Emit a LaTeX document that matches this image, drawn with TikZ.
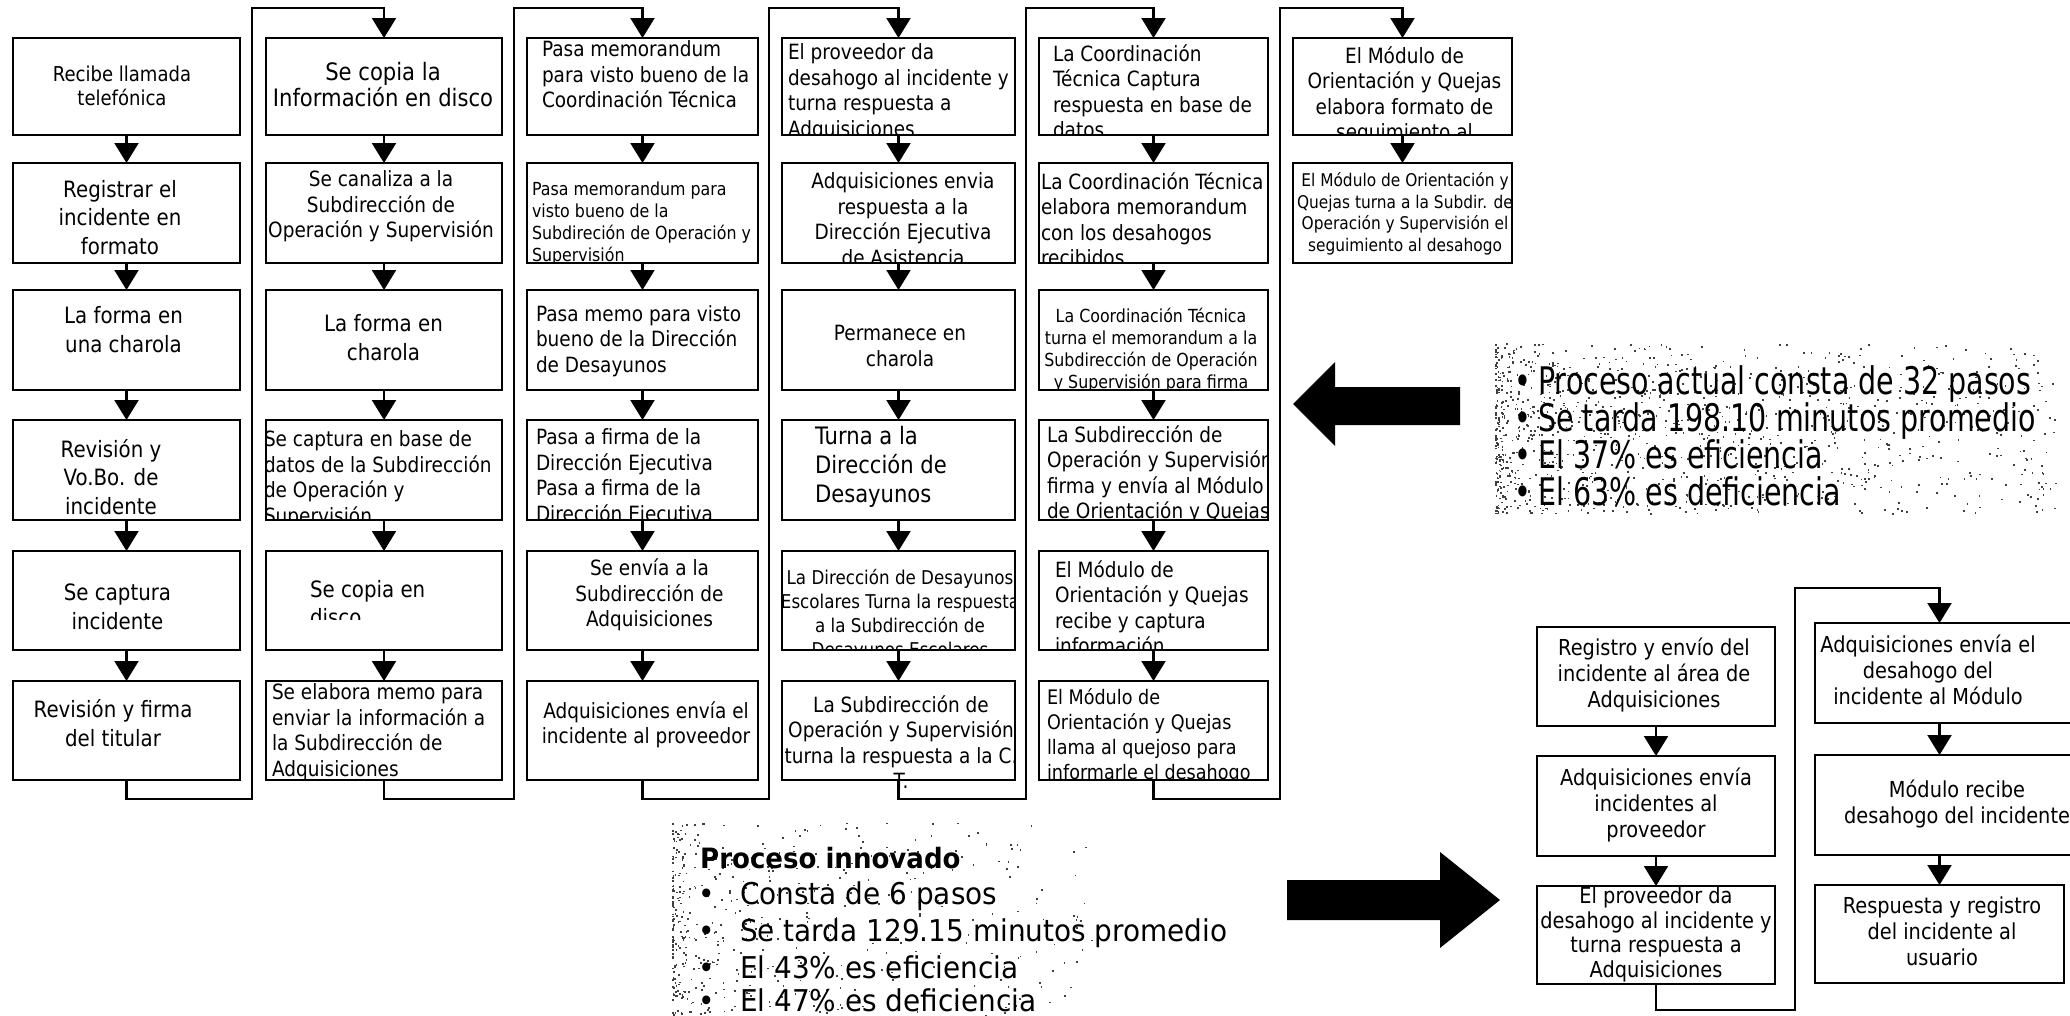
\documentclass[tikz,border=0pt]{standalone}
\usepackage{fontspec}
\setmainfont{DejaVu Sans}
\newfontfamily\boxfont{DejaVu Sans}[FakeStretch=0.88]
\newfontfamily\notefont{DejaVu Sans}[FakeStretch=0.75]
\newfontfamily\notefontb{DejaVu Sans}[FakeStretch=0.93]
\usetikzlibrary{arrows.meta}

% text sizes used inside the boxes
\newcommand\fzT{\fontsize{17.5bp}{21.5bp}\selectfont}
\newcommand\fzS{\fontsize{18bp}{22bp}\selectfont}
\newcommand\fzD{\fontsize{19bp}{24bp}\selectfont}
\newcommand\fzN{\fontsize{20bp}{25bp}\selectfont}
\newcommand\fzR{\fontsize{20.5bp}{24.5bp}\selectfont}
\newcommand\fzM{\fontsize{21bp}{25.5bp}\selectfont}
\newcommand\fzB{\fontsize{22bp}{26bp}\selectfont}
\newcommand\fzC{\fontsize{22bp}{24.5bp}\selectfont}
\newcommand\fzL{\fontsize{22.5bp}{28.5bp}\selectfont}
\newcommand\fzX{\fontsize{24bp}{26bp}\selectfont}
\newcommand\fzY{\fontsize{24bp}{29bp}\selectfont}

\tikzset{
  stepbox/.style={draw, line width=2.6bp, inner sep=0pt, outer sep=0pt},
  boxtxt/.style={inner sep=0pt, outer sep=0pt,
    execute at begin node=\strut, execute at end node=\strut},
  tc/.style={boxtxt, align=center, anchor=center},
  tl/.style={boxtxt, align=left, anchor=west},
  flow/.style={line width=2.2bp, line join=miter, -{Triangle[length=20bp,width=24bp]}},
  note/.style={inner sep=0pt, anchor=base west, font=\notefont\fontsize{38bp}{37bp}\selectfont},
  notetwo/.style={inner sep=0pt, anchor=base west, font=\notefontb\fontsize{30bp}{37bp}\selectfont},
  notehead/.style={inner sep=0pt, anchor=west, font=\notefontb\fontsize{28bp}{34bp}\selectfont\bfseries},
  bulone/.style={inner sep=0pt, anchor=base, font=\notefont\fontsize{38bp}{37bp}\selectfont},
  bultwo/.style={inner sep=0pt, anchor=base, font=\notefontb\fontsize{30bp}{37bp}\selectfont},
  grain/.style={fill=black!75},
  blockarrow/.style={fill=black},
}

% a framed step: name, left, top, right, bottom
\newcommand\flowbox[5]{%
  \pgfmathsetmacro\bw{#4-#2}\pgfmathsetmacro\bh{#5-#3}%
  \node[stepbox, minimum width=\bw bp, minimum height=\bh bp] (#1) at ({(#2+#4)/2},{(#3+#5)/2}) {};}
% text of a step, clipped to its frame: box, options, x, y, text
\newcommand\boxtext[5]{%
  \begin{scope}
    \clip (#1.south west) rectangle (#1.north east);
    \node[#2] (#1t) at (#3,#4) {#5};
  \end{scope}}

\begin{document}
\begin{tikzpicture}[x=1bp,y=-1bp]
\useasboundingbox (0,0) rectangle (2070,1016);
\fill[white] (0,0) rectangle (2070,1016);

% ---------- grainy backdrops behind the two summaries ----------
\pgfmathsetseed{42}
\foreach \k in {1,...,1100}{
  \pgfmathsetmacro\px{1495+560*rnd^2}
  \pgfmathsetmacro\py{343+170*rnd}
  \fill[grain] (\px,\py) rectangle ++(1.7,1.7);
}
\foreach \k in {1,...,500}{
  \pgfmathsetmacro\px{672+420*rnd^2.5}
  \pgfmathsetmacro\py{822+194*rnd}
  \fill[grain] (\px,\py) rectangle ++(1.7,1.7);
}

% ---------- current process: six columns ----------
% column 1
\flowbox{a1}{13}{38}{240}{135}
\flowbox{a2}{13}{163}{240}{263}
\flowbox{a3}{13}{290}{240}{390}
\flowbox{a4}{13}{420}{240}{520}
\flowbox{a5}{13}{551}{240}{650}
\flowbox{a6}{13}{681}{240}{780}
% column 2
\flowbox{b1}{266}{38}{502}{135}
\flowbox{b2}{266}{163}{502}{263}
\flowbox{b3}{266}{290}{502}{390}
\flowbox{b4}{266}{420}{502}{520}
\flowbox{b5}{266}{551}{502}{650}
\flowbox{b6}{266}{681}{502}{780}
% column 3
\flowbox{c1}{527}{38}{758}{135}
\flowbox{c2}{527}{163}{758}{263}
\flowbox{c3}{527}{290}{758}{390}
\flowbox{c4}{527}{420}{758}{520}
\flowbox{c5}{527}{551}{758}{650}
\flowbox{c6}{527}{681}{758}{780}
% column 4
\flowbox{d1}{782}{38}{1015}{135}
\flowbox{d2}{782}{163}{1015}{263}
\flowbox{d3}{782}{290}{1015}{390}
\flowbox{d4}{782}{420}{1015}{520}
\flowbox{d5}{782}{551}{1015}{650}
\flowbox{d6}{782}{681}{1015}{780}
% column 5
\flowbox{e1}{1039}{38}{1268}{135}
\flowbox{e2}{1039}{163}{1268}{263}
\flowbox{e3}{1039}{290}{1268}{390}
\flowbox{e4}{1039}{420}{1268}{520}
\flowbox{e5}{1039}{551}{1268}{650}
\flowbox{e6}{1039}{681}{1268}{780}
% column 6
\flowbox{f1}{1293}{38}{1512}{135}
\flowbox{f2}{1293}{163}{1512}{263}

% texts, column 1
\boxtext{a1}{tc, font=\boxfont\fzR}{122}{89.5}{Recibe llamada\\telefónica}
\boxtext{a2}{tc, font=\boxfont\fzL}{120}{221.5}{Registrar el\\incidente en\\formato}
\boxtext{a3}{tc, font=\boxfont\fzL}{123.5}{333.5}{La forma en\\una charola}
\boxtext{a4}{tc, font=\boxfont\fzL}{111}{481}{Revisión y\\Vo.Bo. de\\incidente}
\boxtext{a5}{tc, font=\boxfont\fzL}{117.5}{611}{Se captura\\incidente}
\boxtext{a6}{tc, font=\boxfont\fzL}{113}{727.5}{Revisión y firma\\del titular}
% texts, column 2
\boxtext{b1}{tc, font=\boxfont\fzX}{383}{88}{Se copia la\\Información en disco}
\boxtext{b2}{tc, font=\boxfont\fzM}{381}{208}{Se canaliza a la\\Subdirección de\\Operación y Supervisión}
\boxtext{b3}{tc, font=\boxfont\fzL}{383.5}{341.5}{La forma en\\charola}
\boxtext{b4}{tl, font=\boxfont\fzM}{264}{481}{Se captura en base de\\datos de la Subdirección\\de Operación y\\Supervisión}
\begin{scope}
  \clip (b5.north west) rectangle (b5.east |- 0,619);
  \node[tl, font=\boxfont\fzL] (b5t) at (310,607) {Se copia en\\disco};
\end{scope}
\boxtext{b6}{tl, font=\boxfont\fzM}{272}{734}{Se elabora memo para\\enviar la información a\\la Subdirección de\\Adquisiciones}
% texts, column 3
\boxtext{c1}{tl, font=\boxfont\fzM}{542}{78}{Pasa memorandum\\para visto bueno de la\\Coordinación Técnica}
\boxtext{c2}{tl, font=\boxfont\fzS}{532}{225}{Pasa memorandum para\\visto bueno de la\\Subdireción de Operación y\\Supervisión}
\boxtext{c3}{tl, font=\boxfont\fzM}{536}{342.5}{Pasa memo para visto\\bueno de la Dirección\\de Desayunos}
\boxtext{c4}{tl, font=\boxfont\fzM}{536}{479}{Pasa a firma de la\\Dirección Ejecutiva\\Pasa a firma de la\\Dirección Ejecutiva}
\boxtext{c5}{tc, font=\boxfont\fzM}{649.5}{596.5}{Se envía a la\\Subdirección de\\Adquisiciones}
\boxtext{c6}{tc, font=\boxfont\fzM}{646}{726.5}{Adquisiciones envía el\\incidente al proveedor}
% texts, column 4
\boxtext{d1}{tl, font=\boxfont\fzM}{788}{94}{El proveedor da\\desahogo al incidente y\\turna respuesta a\\Adquisiciones}
\boxtext{d2}{tc, font=\boxfont\fzM}{903}{223}{Adquisiciones envia\\respuesta a la\\Dirección Ejecutiva\\de Asistencia}
\boxtext{d3}{tc, font=\boxfont\fzM}{900}{349.5}{Permanece en\\charola}
\boxtext{d4}{tl, font=\boxfont\fzY}{815}{469}{Turna a la\\Dirección de\\Desayunos}
\boxtext{d5}{tc, font=\boxfont\fzD}{900}{616}{La Dirección de Desayunos\\Escolares Turna la respuesta\\a la Subdirección de\\Desayunos Escolares}
\node[tc, font=\boxfont\fzM] (d6t) at (901,746) {La Subdirección de\\Operación y Supervisión\\turna la respuesta a la C.\\T.};
% texts, column 5
\boxtext{e1}{tl, font=\boxfont\fzM}{1053}{95}{La Coordinación\\Técnica Captura\\respuesta en base de\\datos}
\boxtext{e2}{tl, font=\boxfont\fzM}{1041}{223}{La Coordinación Técnica\\elabora memorandum\\con los desahogos\\recibidos}
\boxtext{e3}{tc, font=\boxfont\fzS}{1151}{352}{La Coordinación Técnica\\turna el memorandum a la\\Subdirección de Operación\\y Supervisión para firma}
\boxtext{e4}{tl, font=\boxfont\fzM}{1047}{476}{La Subdirección de\\Operación y Supervisión\\firma y envía al Módulo\\de Orientación y Quejas}
\boxtext{e5}{tl, font=\boxfont\fzM}{1055}{611}{El Módulo de\\Orientación y Quejas\\recibe y captura\\información}
\boxtext{e6}{tl, font=\boxfont\fzN}{1047}{738}{El Módulo de\\Orientación y Quejas\\llama al quejoso para\\informarle el desahogo}
% texts, column 6
\boxtext{f1}{tc, font=\boxfont\fzM}{1404.5}{97}{El Módulo de\\Orientación y Quejas\\elabora formato de\\seguimiento al}
\boxtext{f2}{tc, font=\boxfont\fzT}{1405}{215}{El Módulo de Orientación y\\Quejas turna a la Subdir. de\\Operación y Supervisión el\\seguimiento al desahogo}

% arrows inside the columns
\foreach \col in {a,b,c,d,e}{
  \draw[flow] (\col1) -- (\col2);
  \draw[flow] (\col2) -- (\col3);
  \draw[flow] (\col3) -- (\col4);
  \draw[flow] (\col4) -- (\col5);
  \draw[flow] (\col5) -- (\col6);
}
\draw[flow] (f1) -- (f2);

% links from the foot of one column to the head of the next
\coordinate (lb1) at (252,799);  \coordinate (lt1) at (252,8);
\coordinate (lb2) at (514,799);  \coordinate (lt2) at (514,8);
\coordinate (lb3) at (769,799);  \coordinate (lt3) at (769,8);
\coordinate (lb4) at (1026,799); \coordinate (lt4) at (1026,8);
\coordinate (lb5) at (1280,799); \coordinate (lt5) at (1280,8);
\draw[flow] (a6.south) |- (lb1) -- (lt1) -| (b1.north);
\draw[flow] (b6.south) |- (lb2) -- (lt2) -| (c1.north);
\draw[flow] (c6.south) |- (lb3) -- (lt3) -| (d1.north);
\draw[flow] (d6.south) |- (lb4) -- (lt4) -| (e1.north);
\draw[flow] (e6.south) |- (lb5) -- (lt5) -| (f1.north);

% ---------- block arrows ----------
\fill[blockarrow] (1293,404) -- (1335,362) -- (1335,387) -- (1460,387) -- (1460,425)
  -- (1335,425) -- (1335,446) -- cycle;
\fill[blockarrow] (1500,900) -- (1440,852) -- (1440,880) -- (1287,880) -- (1287,920)
  -- (1440,920) -- (1440,948) -- cycle;

% ---------- summary of the current process ----------
\node[bulone] (q1d) at (1523,394) {•};
\node[bulone] (q2d) at (1523,431) {•};
\node[bulone] (q3d) at (1523,468) {•};
\node[bulone] (q4d) at (1523,505) {•};
\node[note] (q1) at (1538,394) {Proceso actual consta de 32 pasos};
\node[note] (q2) at (1538,431) {Se tarda 198.10 minutos promedio};
\node[note] (q3) at (1538,468) {El 37\% es eficiencia};
\node[note] (q4) at (1538,505) {El 63\% es deficiencia};

% ---------- summary of the improved process ----------
\node[notehead] (r0) at (700,858) {Proceso innovado};
\node[bultwo] (r1d) at (707,904) {•};
\node[bultwo] (r2d) at (707,941) {•};
\node[bultwo] (r3d) at (707,978) {•};
\node[bultwo] (r4d) at (707,1011) {•};
\node[notetwo] (r1) at (740,904) {Consta de 6 pasos};
\node[notetwo] (r2) at (740,941) {Se tarda 129.15 minutos promedio};
\node[notetwo] (r3) at (740,978) {El 43\% es eficiencia};
\node[notetwo] (r4) at (740,1011) {El 47\% es deficiencia};

% ---------- improved process ----------
\flowbox{g1}{1537}{627}{1775}{726}
\flowbox{g2}{1537}{756}{1775}{856}
\flowbox{g3}{1537}{886}{1775}{984}
\flowbox{h1}{1815}{623}{2074}{723}
\flowbox{h2}{1815}{755}{2074}{855}
\flowbox{h3}{1815}{885}{2064}{983}
\boxtext{g1}{tc, font=\boxfont\fzB}{1654}{677}{Registro y envío del\\incidente al área de\\Adquisiciones}
\boxtext{g2}{tc, font=\boxfont\fzB}{1656}{807}{Adquisiciones envía\\incidentes al\\proveedor}
\boxtext{g3}{tc, font=\boxfont\fzC}{1656}{936}{El proveedor da\\desahogo al incidente y\\turna respuesta a\\Adquisiciones}
\boxtext{h1}{tc, font=\boxfont\fzB}{1928}{674}{Adquisiciones envía el\\desahogo del\\incidente al Módulo}
\boxtext{h2}{tc, font=\boxfont\fzB}{1957}{806}{Módulo recibe\\desahogo del incidente}
\boxtext{h3}{tc, font=\boxfont\fzB}{1942}{935}{Respuesta y registro\\del incidente al\\usuario}
\draw[flow] (g1) -- (g2);
\draw[flow] (g2) -- (g3);
\draw[flow] (h1.south -| h3.north) -- (h2.north -| h3.north);
\draw[flow] (h2.south -| h3.north) -- (h3.north);
\coordinate (lb6) at (1795,1010); \coordinate (lt6) at (1795,588);
\draw[flow] (g3.south) |- (lb6) -- (lt6) -| (h1.north -| h3.north);
\end{tikzpicture}
\end{document}
